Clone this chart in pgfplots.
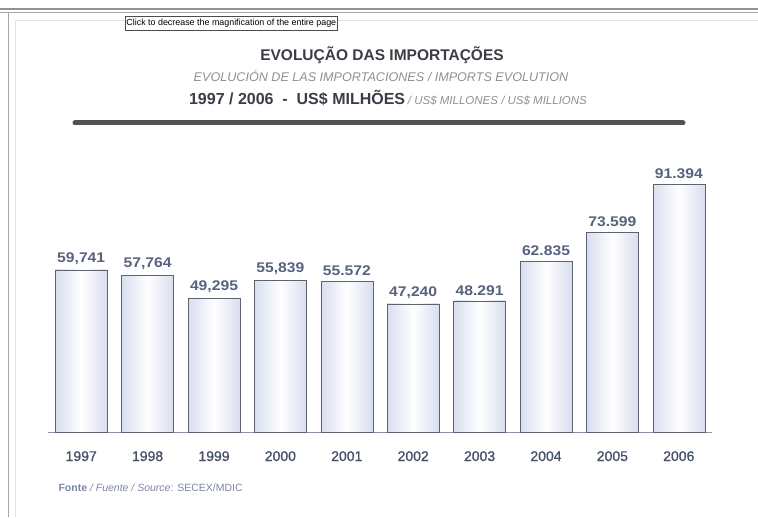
\documentclass[border=0pt]{standalone}
\usepackage{pgfplots}
\pgfplotsset{compat=1.18}
\usepackage{fontspec}
\setmainfont{Liberation Sans}
\newfontfamily\semib[FakeBold=1.0]{Liberation Sans}
\newfontfamily\widebold[FakeStretch=1.12]{Liberation Sans Bold}
\definecolor{barblue}{HTML}{D8DEEE}
\definecolor{baredge}{HTML}{5E626E}
\definecolor{vallab}{HTML}{56627E}
\definecolor{yearlab}{HTML}{465068}
\definecolor{axisc}{HTML}{8A92AA}
\definecolor{titlec}{HTML}{3A3D45}
\definecolor{subc}{HTML}{8C8F98}
\definecolor{srcc}{HTML}{7C86A2}
\pgfplotsset{
  impbar/.style={ybar, bar width=52pt, draw=baredge, line width=0.6pt,
    left color=barblue, right color=barblue, middle color=white, forget plot},
}
\begin{document}
\begin{tikzpicture}[x=1pt,y=1pt]
\path[use as bounding box] (0,0) rectangle (758,517);
% page frame
\draw[gray!85, line width=1.3pt] (0,508) -- (758,508);
\draw[gray!70, line width=0.9pt] (0,505) -- (758,505);
\draw[gray!70, line width=1pt] (8,505) -- (8,0);
\draw[gray!22, line width=0.6pt] (15,497) -- (758,497);
\draw[gray!22, line width=0.6pt] (15,497) -- (15,0);
% tooltip
\node[draw=black!70, fill=white, line width=0.5pt, inner sep=1.2pt, anchor=west, font=\fontsize{8.9}{10}\selectfont, minimum height=14pt] at (125,494) {Click to decrease the magnification of the entire page};
% titles
\node[font=\bfseries\fontsize{15.5}{17}\selectfont, text=titlec] at (382,462) {EVOLUÇÃO DAS IMPORTAÇÕES};
\node[font=\itshape\fontsize{12.6}{14}\selectfont, text=subc] at (381,441) {EVOLUCIÓN DE LAS IMPORTACIONES / IMPORTS EVOLUTION};
\node[text=titlec] at (388,419) {{\bfseries\fontsize{16}{18}\selectfont 1997 / 2006\ \ -\ \ US\$ MILHÕES} {\color{subc}\itshape\fontsize{11.5}{13}\selectfont / US\$ MILLONES / US\$ MILLIONS}};
\draw[line width=5pt, color=black!68, line cap=round] (75,394) -- (683,394);
% source
\node[anchor=base west, font=\fontsize{10.5}{12}\selectfont, text=srcc] at (55,26) {\textbf{Fonte} \textit{/ Fuente / Source}: SECEX/MDIC};
\begin{axis}[
  at={(48pt,85pt)}, anchor=south west,
  scale only axis, width=664pt, height=271.3pt,
  xmin=-0.5, xmax=9.5, ymin=0, ymax=100,
  axis y line=none, axis x line*=bottom,
  x axis line style={-, color=axisc, line width=0.9pt},
  xtick={0,1,2,3,4,5,6,7,8,9},
  xticklabels={1997,1998,1999,2000,2001,2002,2003,2004,2005,2006},
  major tick length=0pt,
  xticklabel style={anchor=base, yshift=-29pt, text=yearlab, font=\semib\fontsize{14}{16}\selectfont},
  clip=false,
  nodes near coords,
  point meta=explicit symbolic,
  every node near coord/.append style={anchor=south, yshift=2pt, text=vallab, font=\widebold\fontsize{14}{16}\selectfont},
]
\addplot[impbar] coordinates {(0,59.741) [59,741]};
\addplot[impbar] coordinates {(1,57.764) [57,764]};
\addplot[impbar] coordinates {(2,49.295) [49,295]};
\addplot[impbar] coordinates {(3,55.839) [55,839]};
\addplot[impbar] coordinates {(4,55.572) [55.572]};
\addplot[impbar] coordinates {(5,47.240) [47,240]};
\addplot[impbar] coordinates {(6,48.291) [48.291]};
\addplot[impbar] coordinates {(7,62.835) [62.835]};
\addplot[impbar] coordinates {(8,73.599) [73.599]};
\addplot[impbar] coordinates {(9,91.394) [91.394]};
\end{axis}
\end{tikzpicture}
\end{document}
